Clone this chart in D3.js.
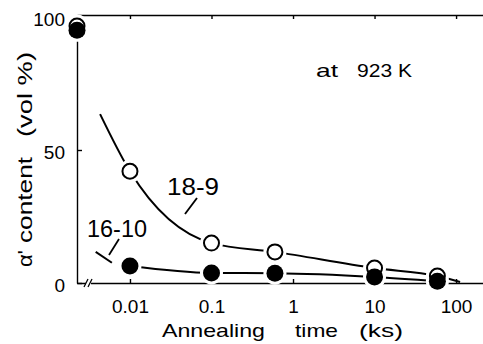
<!DOCTYPE html>
<html>
<head>
<meta charset="utf-8">
<script src="https://cdn.jsdelivr.net/npm/d3@7"></script>
<style>
  body { margin: 0; background: white; }
  svg { display: block; }
  text { font-family: "Liberation Sans", Arial, sans-serif; fill: black; }
  .axis path, .axis line { stroke: black; stroke-width: 1.4; }
</style>
</head>
<body>
<div id="chart"></div>
<script>
// annealing time (ks) for the measured points
var times = [0.01, 0.1, 0.6, 10, 59];
var tickTimes = [0.01, 0.1, 1, 10, 100];
var tickLabels = ["0.01", "0.1", "1", "10", "100"];
var yTicks = [0, 50, 100];

// alpha' content (vol %)
var values189 = [42, 15, 11.7, 5.6, 2.6];
var values1610 = [6.4, 3.8, 3.7, 2.3, 0.7];
// as-received (before annealing), drawn on the axis break
var initial189 = 96.6;
var initial1610 = 95;

// ends of the hand-drawn curves
var lead189 = [[0.0043, 63.5]];
var tail189 = [[112, 0.4]];
var lead1610 = [[0.0038, 11.7], [0.006, 7.6]];

var W = 483, H = 344;
var margin = { left: 77, right: 0, top: 15, bottom: 61 };

var svg = d3.select("#chart").append("svg")
  .attr("width", W)
  .attr("height", H);

var x = d3.scaleLog()
  .domain([0.00224, 214])
  .range([margin.left, W - margin.right]);

var y = d3.scaleLinear()
  .domain([0, 100.75])
  .range([H - margin.bottom, margin.top]);

// axes
var xAxis = svg.append("g")
  .attr("class", "axis")
  .attr("transform", "translate(0," + (H - margin.bottom) + ")")
  .call(d3.axisBottom(x).tickValues(tickTimes)
    .tickFormat(function (d, i) { return tickLabels[i]; })
    .tickSizeInner(-4).tickSizeOuter(0).tickPadding(17));
xAxis.selectAll("text")
  .style("font-size", "19px")
  .attr("dy", "0.72em")
  .attr("y", 16);
xAxis.selectAll(".tick line").attr("y2", -4);

svg.append("g")
  .attr("class", "axis")
  .attr("transform", "translate(0," + margin.top + ")")
  .call(d3.axisTop(x).tickValues(tickTimes).tickFormat("")
    .tickSizeInner(-4).tickSizeOuter(0));

var yAxis = svg.append("g")
  .attr("class", "axis")
  .attr("transform", "translate(" + margin.left + ",0)")
  .call(d3.axisLeft(y).tickValues(yTicks)
    .tickSizeInner(-5).tickSizeOuter(0).tickPadding(12));
yAxis.selectAll("text")
  .style("font-size", "19px")
  .attr("dy", "0.45em");

// axis break
var bx = 88, by = H - margin.bottom;
svg.append("rect")
  .attr("x", bx - 2).attr("y", by - 3)
  .attr("width", 5).attr("height", 6)
  .attr("fill", "white");
[-2, 2].forEach(function (o) {
  svg.append("line")
    .attr("x1", bx + o - 2).attr("y1", by + 4)
    .attr("x2", bx + o + 2).attr("y2", by - 4)
    .attr("stroke", "black").attr("stroke-width", 1.3);
});

// curves
var line = d3.line()
  .x(function (d) { return x(d[0]); })
  .y(function (d) { return y(d[1]); })
  .curve(d3.curveMonotoneX);

var pts189 = lead189.concat(times.map(function (t, i) { return [t, values189[i]]; })).concat(tail189);
var pts1610 = times.map(function (t, i) { return [t, values1610[i]]; });

[pts189, pts1610, lead1610].forEach(function (p) {
  svg.append("path")
    .datum(p)
    .attr("d", line)
    .attr("fill", "none")
    .attr("stroke", "black")
    .attr("stroke-width", 2);
});

// markers: white halo first to leave gaps in the lines
var open = [[x.domain()[0], initial189]].concat(times.map(function (t, i) { return [t, values189[i]]; }));
var filled = [[x.domain()[0], initial1610]].concat(times.map(function (t, i) { return [t, values1610[i]]; }));

svg.append("g").selectAll("circle")
  .data(open.concat(filled))
  .enter().append("circle")
  .attr("cx", function (d) { return x(d[0]); })
  .attr("cy", function (d) { return y(d[1]); })
  .attr("r", 11.5)
  .attr("fill", "white");

svg.append("g").selectAll("circle")
  .data(open)
  .enter().append("circle")
  .attr("cx", function (d) { return x(d[0]); })
  .attr("cy", function (d) { return y(d[1]); })
  .attr("r", 7.5)
  .attr("fill", "white")
  .attr("stroke", "black")
  .attr("stroke-width", 2);

svg.append("g").selectAll("circle")
  .data(filled)
  .enter().append("circle")
  .attr("cx", function (d) { return x(d[0]); })
  .attr("cy", function (d) { return y(d[1]); })
  .attr("r", 8.5)
  .attr("fill", "black");

// labels
function label(txt, xs, ys, len, size) {
  svg.append("text")
    .attr("x", xs).attr("y", ys)
    .attr("textLength", len)
    .attr("lengthAdjust", "spacingAndGlyphs")
    .style("font-size", size + "px")
    .text(txt);
}
label("18-9", 167, 195, 52, 23);
label("16-10", 87, 237, 60, 23);
label("at", 316, 77, 22, 19);
label("923 K", 357, 77, 55, 19);
label("Annealing", 162, 337, 103, 19);
label("time", 295, 337, 43, 19);
label("(ks)", 359, 337, 44, 19);

// pointer ticks
[[197, 198, 185, 214], [119, 239, 109, 255]].forEach(function (l) {
  svg.append("line")
    .attr("x1", l[0]).attr("y1", l[1])
    .attr("x2", l[2]).attr("y2", l[3])
    .attr("stroke", "black").attr("stroke-width", 1.8);
});

// y title, in three spaced pieces
[["α'", 267, 17], ["content", 243, 86], ["(vol %)", 137, 85]].forEach(function (p) {
  svg.append("text")
    .attr("transform", "rotate(-90)")
    .attr("x", -p[1]).attr("y", 32)
    .attr("textLength", p[2])
    .attr("lengthAdjust", "spacingAndGlyphs")
    .style("font-size", "20px")
    .text(p[0]);
});
</script>
</body>
</html>
